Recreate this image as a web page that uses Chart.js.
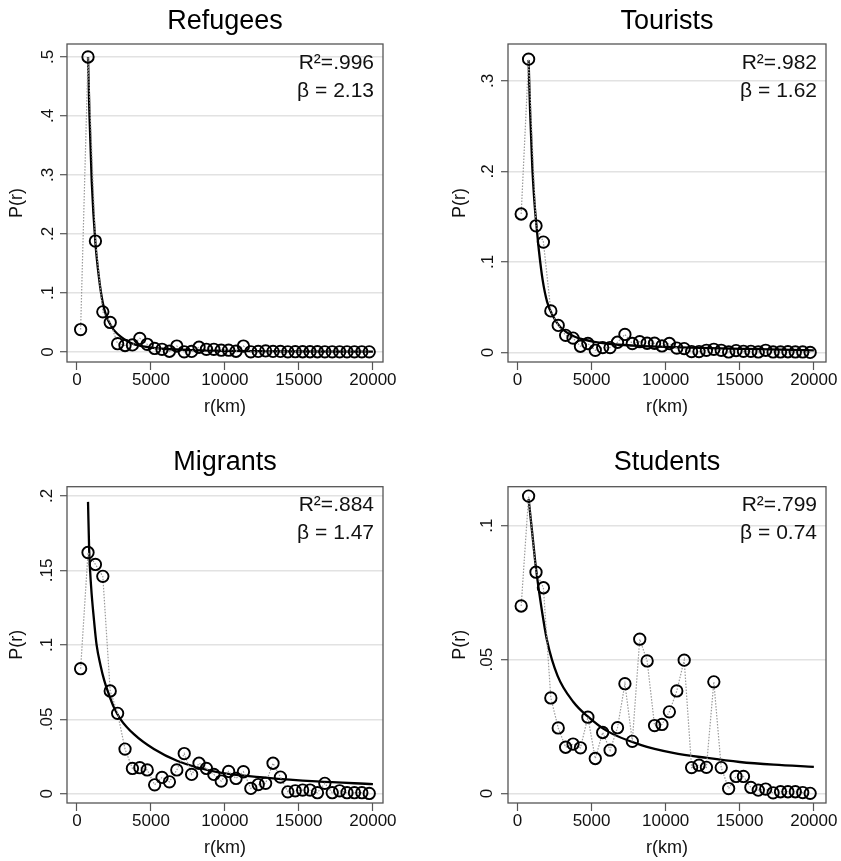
<!DOCTYPE html>
<html>
<head>
<meta charset="utf-8">
<title>P(r) by distance</title>
<script src="https://cdn.jsdelivr.net/npm/chart.js@4.4.1/dist/chart.umd.min.js"></script>
<style>
  html, body { margin: 0; padding: 0; background: #fff; }
  #wrap { position: relative; width: 841px; height: 861px; background: #fff; }
  canvas { position: absolute; }
</style>
</head>
<body>
<div id="wrap">
  <canvas id="refugees" width="420" height="430" style="left:0;top:0"></canvas>
  <canvas id="tourists" width="421" height="430" style="left:420px;top:0"></canvas>
  <canvas id="migrants" width="420" height="431" style="left:0;top:430px"></canvas>
  <canvas id="students" width="421" height="431" style="left:420px;top:430px"></canvas>
</div>
<script>
// bin centres, km
const distances = [250, 750, 1250, 1750, 2250, 2750, 3250, 3750, 4250, 4750,
  5250, 5750, 6250, 6750, 7250, 7750, 8250, 8750, 9250, 9750,
  10250, 10750, 11250, 11750, 12250, 12750, 13250, 13750, 14250, 14750,
  15250, 15750, 16250, 16750, 17250, 17750, 18250, 18750, 19250, 19750];

const refugees = [0.038, 0.500, 0.188, 0.068, 0.050, 0.014, 0.011, 0.012, 0.023, 0.013,
  0.006, 0.0045, 0.0012, 0.010, 0.0003, 0.001, 0.008, 0.0045, 0.0045, 0.003,
  0.003, 0.0012, 0.010, 0.0003, 0.001, 0.0018, 0.001, 0.001, 0.0003, 0.0005,
  0.0004, 0.0004, 0.0004, 0.0003, 0.0003, 0.0003, 0.0003, 0.0003, 0.0003, 0.0002];
const tourists = [0.153, 0.324, 0.140, 0.122, 0.046, 0.030, 0.019, 0.016, 0.007, 0.010,
  0.0025, 0.0055, 0.0055, 0.0114, 0.020, 0.010, 0.012, 0.0103, 0.0103, 0.0073,
  0.010, 0.005, 0.0044, 0.0011, 0.0011, 0.0025, 0.0036, 0.0025, 0.0007, 0.0022,
  0.0014, 0.0014, 0.0007, 0.0025, 0.0007, 0.0007, 0.0009, 0.0007, 0.0007, 0.0002];
const migrants = [0.084, 0.162, 0.154, 0.146, 0.069, 0.054, 0.030, 0.017, 0.0175, 0.016,
  0.006, 0.011, 0.008, 0.016, 0.027, 0.013, 0.0205, 0.017, 0.013, 0.0085,
  0.015, 0.0103, 0.0148, 0.0036, 0.0062, 0.007, 0.0205, 0.0112, 0.0013, 0.002,
  0.0025, 0.0025, 0.0007, 0.007, 0.0007, 0.002, 0.0007, 0.0007, 0.0007, 0.0002];
const students = [0.070, 0.111, 0.0826, 0.0768, 0.0357, 0.0245, 0.0173, 0.0185, 0.0171, 0.0285,
  0.0131, 0.0228, 0.0162, 0.0246, 0.0410, 0.0195, 0.0576, 0.0495, 0.0254, 0.0258,
  0.0305, 0.0383, 0.0498, 0.0097, 0.0106, 0.0098, 0.0417, 0.0097, 0.0019, 0.0064,
  0.0064, 0.0023, 0.0013, 0.0017, 0.0003, 0.0007, 0.0007, 0.0007, 0.0004, 0.0001];

// fitted curves
const refugeesFitR = [750, 850, 1000, 1250, 1500, 1750, 2000, 2250, 2500, 3000, 3500, 4000, 5000, 6000, 8000, 10000, 14000, 20000];
const refugeesFitP = [0.500, 0.400, 0.290, 0.185, 0.124, 0.083, 0.060, 0.047, 0.037, 0.025, 0.017, 0.012, 0.0075, 0.005, 0.003, 0.002, 0.001, 0.0005];
const touristsFitR = [750, 850, 1000, 1150, 1300, 1450, 1700, 2000, 2400, 2900, 3800, 5000, 6500, 8500, 11000, 15500, 20000];
const touristsFitP = [0.323, 0.267, 0.205, 0.165, 0.137, 0.112, 0.080, 0.056, 0.040, 0.028, 0.018, 0.0125, 0.0092, 0.0072, 0.0058, 0.0040, 0.0025];
const migrantsFitR = [750, 830, 960, 1150, 1330, 1600, 1850, 2150, 2500, 2950, 3850, 5200, 6800, 9500, 12900, 16200, 20000];
const migrantsFitP = [0.196, 0.163, 0.139, 0.117, 0.100, 0.086, 0.076, 0.067, 0.058, 0.050, 0.040, 0.030, 0.022, 0.0145, 0.0107, 0.0083, 0.0065];
const studentsFitR = [750, 1000, 1250, 1600, 2000, 2700, 3800, 4700, 6000, 8300, 10500, 12800, 15000, 17300, 20000];
const studentsFitP = [0.110, 0.097, 0.084, 0.070, 0.057, 0.044, 0.034, 0.029, 0.0235, 0.0182, 0.0152, 0.0133, 0.0118, 0.0108, 0.0100];

const xTicks = [0, 5000, 10000, 15000, 20000];
const xTickLabels = ['0', '5000', '10000', '15000', '20000'];
const refugeesTicks = [0, 0.1, 0.2, 0.3, 0.4, 0.5];
const refugeesTickLabels = ['0', '.1', '.2', '.3', '.4', '.5'];
const touristsTicks = [0, 0.1, 0.2, 0.3];
const touristsTickLabels = ['0', '.1', '.2', '.3'];
const migrantsTicks = [0, 0.05, 0.1, 0.15, 0.2];
const migrantsTickLabels = ['0', '.05', '.1', '.15', '.2'];
const studentsTicks = [0, 0.05, 0.1];
const studentsTickLabels = ['0', '.05', '.1'];

const FONT = "'Liberation Sans', Arial, Helvetica, sans-serif";
Chart.defaults.font.family = FONT;
Chart.defaults.color = '#111';

const frameBox = {
  id: 'frameBox',
  afterDraw(chart) {
    const a = chart.chartArea, ctx = chart.ctx;
    ctx.save();
    ctx.strokeStyle = '#555';
    ctx.lineWidth = 1.3;
    ctx.strokeRect(a.left, a.top, a.right - a.left, a.bottom - a.top);
    ctx.restore();
  }
};

const fitLabel = {
  id: 'fitLabel',
  afterDatasetsDraw(chart, args, opts) {
    const a = chart.chartArea, ctx = chart.ctx;
    ctx.save();
    ctx.font = '21px ' + FONT;
    ctx.fillStyle = '#111';
    ctx.textAlign = 'right';
    ctx.textBaseline = 'middle';
    ctx.fillText(opts.r2, a.right - 9, a.top + 19);
    ctx.fillText(opts.beta, a.right - 9, a.top + 47);
    ctx.restore();
  }
};

function drawPanel(id, p) {
  new Chart(document.getElementById(id), {
    type: 'line',
    data: {
      datasets: [{
        data: distances.map((r, i) => ({ x: r, y: p.values[i] })),
        borderColor: '#9a9a9a',
        borderWidth: 1.2,
        borderDash: [1.5, 1.5],
        pointRadius: 5.7,
        pointBorderWidth: 1.9,
        pointBorderColor: '#000',
        pointBackgroundColor: 'rgba(0,0,0,0)',
        tension: 0
      }, {
        data: p.fitR.map((r, i) => ({ x: r, y: p.fitP[i] })),
        borderColor: '#000',
        borderWidth: 2.3,
        pointRadius: 0,
        cubicInterpolationMode: 'monotone'
      }]
    },
    options: {
      responsive: false,
      animation: false,
      events: [],
      layout: { padding: { left: 0, top: 0, right: p.padRight, bottom: 0 } },
      plugins: {
        legend: { display: false },
        tooltip: { enabled: false },
        title: {
          display: true,
          text: p.title,
          fullSize: false,
          color: '#000',
          font: { size: 27, weight: 'normal' },
          padding: { top: p.titleTop, bottom: p.titleBottom }
        },
        fitLabel: { r2: p.r2, beta: p.beta }
      },
      scales: {
        x: {
          type: 'linear',
          min: p.xMin,
          max: p.xMax,
          afterBuildTicks: s => { s.ticks = xTicks.map(v => ({ value: v })); },
          afterFit: s => { s.height = p.xHeight; s.paddingLeft = 0; s.paddingRight = 0; },
          grid: { drawOnChartArea: false, tickLength: 8, tickColor: '#555', tickWidth: 1.2 },
          border: { display: false },
          ticks: {
            autoSkip: false, maxRotation: 0, padding: 0, color: '#111',
            font: { size: 17 },
            callback: (v, i) => xTickLabels[i]
          },
          title: {
            display: true, text: 'r(km)', color: '#111',
            font: { size: 18 },
            padding: { top: 0, bottom: p.xTitlePad }
          }
        },
        y: {
          type: 'linear',
          min: p.yMin,
          max: p.yMax,
          afterBuildTicks: s => { s.ticks = p.yTicks.map(v => ({ value: v })); },
          afterFit: s => { s.width = p.yWidth; s.paddingTop = 0; s.paddingBottom = 0; },
          grid: { color: '#e2e2e2', lineWidth: 1.4, tickLength: 7, tickColor: '#555', tickWidth: 1.2 },
          border: { display: false },
          ticks: {
            autoSkip: false, minRotation: 90, maxRotation: 90, crossAlign: 'center',
            padding: p.yTickPad, color: '#111',
            font: { size: 17 },
            callback: (v, i) => p.yTickLabels[i]
          },
          title: {
            display: true, text: 'P(r)', color: '#111',
            font: { size: 18 },
            padding: { top: p.yTitlePad, bottom: 0 }
          }
        }
      }
    },
    plugins: [frameBox, fitLabel]
  });
}

drawPanel('refugees', {
  title: 'Refugees', r2: 'R²=.996', beta: 'β = 2.13',
  values: refugees, fitR: refugeesFitR, fitP: refugeesFitP,
  yTicks: refugeesTicks, yTickLabels: refugeesTickLabels,
  yMin: -0.017, yMax: 0.522, xMin: -670, xMax: 20680,
  padRight: 37, titleTop: 5, titleBottom: 6.6, xHeight: 68, xTitlePad: 12,
  yWidth: 67, yTickPad: 5, yTitlePad: 6
});
drawPanel('tourists', {
  title: 'Tourists', r2: 'R²=.982', beta: 'β = 1.62',
  values: tourists, fitR: touristsFitR, fitP: touristsFitP,
  yTicks: touristsTicks, yTickLabels: touristsTickLabels,
  yMin: -0.0104, yMax: 0.3407, xMin: -640, xMax: 20820,
  padRight: 15, titleTop: 5, titleBottom: 6.6, xHeight: 68, xTitlePad: 12,
  yWidth: 88, yTickPad: 6, yTitlePad: 29
});
drawPanel('migrants', {
  title: 'Migrants', r2: 'R²=.884', beta: 'β = 1.47',
  values: migrants, fitR: migrantsFitR, fitP: migrantsFitP,
  yTicks: migrantsTicks, yTickLabels: migrantsTickLabels,
  yMin: -0.0062, yMax: 0.2062, xMin: -670, xMax: 20680,
  padRight: 37, titleTop: 16.5, titleBottom: 7.8, xHeight: 58, xTitlePad: 2,
  yWidth: 67, yTickPad: 1, yTitlePad: 6
});
drawPanel('students', {
  title: 'Students', r2: 'R²=.799', beta: 'β = 0.74',
  values: students, fitR: studentsFitR, fitP: studentsFitP,
  yTicks: studentsTicks, yTickLabels: studentsTickLabels,
  yMin: -0.0035, yMax: 0.1145, xMin: -640, xMax: 20820,
  padRight: 15, titleTop: 16.5, titleBottom: 7.8, xHeight: 58, xTitlePad: 2,
  yWidth: 88, yTickPad: 2, yTitlePad: 29
});
</script>
</body>
</html>
